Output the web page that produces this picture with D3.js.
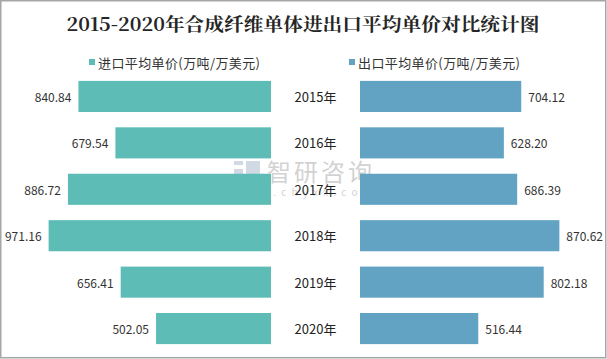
<!DOCTYPE html>
<html><head><meta charset="utf-8">
<script src="https://cdn.jsdelivr.net/npm/d3@7"></script>
<style>
html,body{margin:0;padding:0;background:#fff;}
svg{display:block;}
</style></head>
<body>
<svg id="chart" width="607" height="359"></svg>
<script>
const years = ["2015年","2016年","2017年","2018年","2019年","2020年"];
const importPrice = [840.84, 679.54, 886.72, 971.16, 656.41, 502.05];
const exportPrice = [704.12, 628.20, 686.39, 870.62, 802.18, 516.44];
const seriesNames = ["进口平均单价(万吨/万美元)", "出口平均单价(万吨/万美元)"];
const colors = ["#5dbcb6", "#62a3c3"];
const titleText = "2015-2020年合成纤维单体进出口平均单价对比统计图";

const svg = d3.select("#chart");
const font = "'Noto Sans CJK SC','Noto Sans',sans-serif";

svg.append("rect").attr("x",0.75).attr("y",0.75).attr("width",605).attr("height",357)
  .attr("fill","#fff").attr("stroke","#a6a6a6").attr("stroke-width",1.5);

svg.append("text").attr("x",303).attr("y",31)
  .attr("text-anchor","middle")
  .attr("font-family","'Noto Serif CJK SC','DejaVu Serif','Noto Sans CJK SC',serif")
  .attr("font-weight","bold").attr("font-size",18).attr("fill","#262626")
  .attr("textLength",473).attr("lengthAdjust","spacingAndGlyphs")
  .text(titleText);

// legend
const legendX = [89, 349];
seriesNames.forEach((n,i)=>{
  svg.append("rect").attr("x",legendX[i]).attr("y",59).attr("width",6).attr("height",6).attr("fill",colors[i]);
  svg.append("text").attr("x",legendX[i]+9).attr("y",62).attr("dominant-baseline","central")
    .attr("font-family",font).attr("font-size",13).attr("fill","#333")
    .attr("textLength",162).attr("lengthAdjust","spacing")
    .text(n);
});

const y = d3.scaleBand().domain(years).range([73,352]).paddingInner(0.33).paddingOuter(0.17);
const xL = d3.scaleLinear().domain([0,1000]).range([271,42]);
const xR = d3.scaleLinear().domain([0,1000]).range([360,589]);

// watermark
const wm = svg.append("g").attr("opacity",0.35);
wm.append("rect").attr("x",234).attr("y",161).attr("width",9).attr("height",4).attr("fill","#7d93b5");
wm.append("rect").attr("x",234).attr("y",169).attr("width",9).attr("height",12).attr("fill","#7d93b5");
wm.append("rect").attr("x",246).attr("y",161).attr("width",14).attr("height",20).attr("fill","#7d93b5");
wm.append("text").attr("x",267).attr("y",181).attr("font-family",font).attr("font-size",24)
  .attr("fill","#808080").attr("letter-spacing",3).text("智研咨询");
wm.append("text").attr("x",234).attr("y",196).attr("font-family",font).attr("font-size",10)
  .attr("fill","#808080").attr("textLength",138).attr("lengthAdjust","spacing").text("www.chyxx.com");

// left bars
svg.append("g").selectAll("rect").data(importPrice).join("rect")
  .attr("x",d=>xL(d)).attr("y",(d,i)=>y(years[i]))
  .attr("width",d=>xL(0)-xL(d)).attr("height",y.bandwidth()).attr("fill",colors[0]);
svg.append("g").selectAll("text").data(importPrice).join("text")
  .attr("x",d=>xL(d)-7).attr("y",(d,i)=>y(years[i])+y.bandwidth()/2)
  .attr("text-anchor","end").attr("dominant-baseline","central")
  .attr("font-family",font).attr("font-size",12).attr("fill","#333")
  .text(d=>d.toFixed(2));

// right bars
svg.append("g").selectAll("rect").data(exportPrice).join("rect")
  .attr("x",xR(0)).attr("y",(d,i)=>y(years[i]))
  .attr("width",d=>xR(d)-xR(0)).attr("height",y.bandwidth()).attr("fill",colors[1]);
svg.append("g").selectAll("text").data(exportPrice).join("text")
  .attr("x",d=>xR(d)+7).attr("y",(d,i)=>y(years[i])+y.bandwidth()/2)
  .attr("text-anchor","start").attr("dominant-baseline","central")
  .attr("font-family",font).attr("font-size",12).attr("fill","#333")
  .text(d=>d.toFixed(2));

// year labels
svg.append("g").selectAll("text").data(years).join("text")
  .attr("x",315.5).attr("y",d=>y(d)+y.bandwidth()/2)
  .attr("text-anchor","middle").attr("dominant-baseline","central")
  .attr("font-family",font).attr("font-size",13).attr("fill","#222")
  .text(d=>d);
</script>
</body></html>
